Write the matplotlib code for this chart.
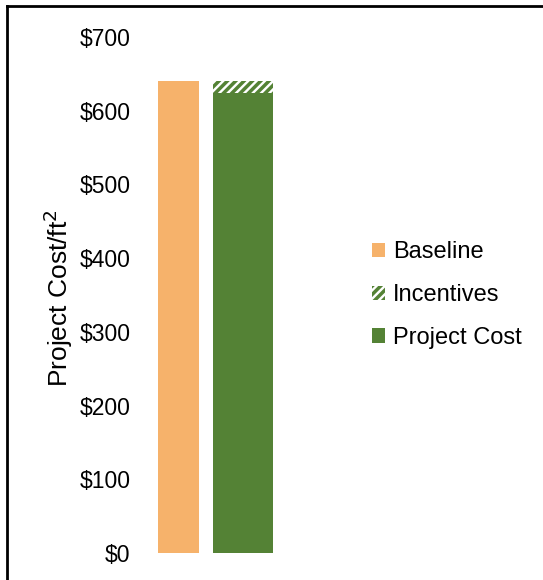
import matplotlib.pyplot as plt
from matplotlib.patches import Patch
from matplotlib.lines import Line2D

plt.rcParams['font.family'] = ['Liberation Sans', 'DejaVu Sans']
plt.rcParams['hatch.linewidth'] = 2.5

# cost per square foot
baseline = 640
project_cost = 624
incentives = 16
yticks = [0, 100, 200, 300, 400, 500, 600, 700]

orange = '#F6B26B'
green = '#548235'

fig = plt.figure(figsize=(5.43, 5.8), dpi=100)
ax = fig.add_axes([140 / 543, 27 / 580, 200 / 543, 516 / 580])

ax.bar(0, baseline, width=0.636, color=orange)
ax.bar(1, project_cost, width=0.93, color=green)
ax.bar(1, incentives, bottom=project_cost, width=0.93, facecolor='white',
       edgecolor=green, hatch='////', linewidth=0)

ax.set_xlim(-0.6, 2.5)
ax.set_ylim(0, 700)
ax.set_yticks(yticks)
ax.set_yticklabels([f'${v}' for v in yticks], fontsize=16.5)
ax.set_xticks([])
ax.tick_params(axis='y', length=0, pad=7)
for s in ax.spines.values():
    s.set_visible(False)

fig.text(58 / 543, 1 - 298 / 580, 'Project Cost/ft$^2$', rotation=90,
         ha='center', va='center', fontsize=19)

handles = [
    Patch(facecolor=orange, edgecolor='none'),
    Patch(facecolor='white', edgecolor=green, hatch='////', linewidth=0),
    Patch(facecolor=green, edgecolor='none'),
]
fig.legend(handles, ['Baseline', 'Incentives', 'Project Cost'],
           loc='center left', bbox_to_anchor=(351 / 543, 1 - 295 / 580),
           frameon=False, fontsize=17, handlelength=0.55, handleheight=0.55,
           handletextpad=0.33, labelspacing=0.88)

# frame along the top and left edges
fig.add_artist(Line2D([6.5 / 543, 6.5 / 543], [0, 1 - 5.5 / 580], color='black',
                      lw=2, transform=fig.transFigure))
fig.add_artist(Line2D([6.5 / 543, 1], [1 - 5.5 / 580, 1 - 5.5 / 580], color='black',
                      lw=2, transform=fig.transFigure))

fig.savefig('out.png', dpi=100)
